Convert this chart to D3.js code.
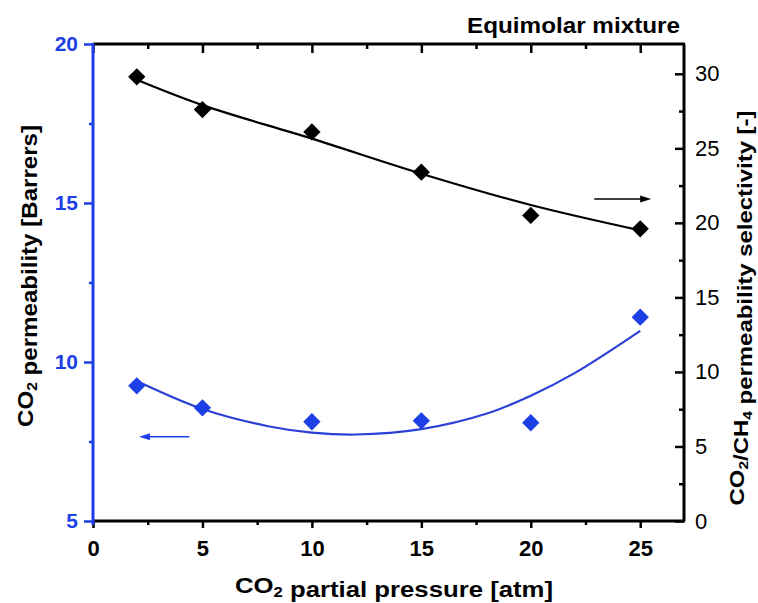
<!DOCTYPE html>
<html>
<head>
<meta charset="utf-8">
<script src="https://cdn.jsdelivr.net/npm/d3@7"></script>
<style>
  body { margin: 0; background: #fff; }
  text { font-family: "Liberation Sans", Arial, sans-serif; }
</style>
</head>
<body>
<svg id="chart"></svg>
<script>
// measured points
const pressure = [2, 5, 10, 15, 20, 25];
const permeability = [9.25, 8.56, 8.12, 8.15, 8.09, 11.41];
const selectivity = [29.8, 27.6, 26.1, 23.4, 20.5, 19.6];

// fitted curves
const permFitX = [2, 5, 8, 10, 12, 15, 18, 20, 22, 25];
const permFitY = [9.4, 8.52, 7.98, 7.78, 7.72, 7.89, 8.38, 8.94, 9.65, 10.98];
const selFitX = [2, 5, 10, 15, 20, 25];
const selFitY = [29.6, 27.9, 25.65, 23.3, 21.2, 19.5];

const xTicks = [0, 5, 10, 15, 20, 25];
const xMinor = [2.5, 7.5, 12.5, 17.5, 22.5];
const leftTicks = [5, 10, 15, 20];
const leftMinor = [7.5, 12.5, 17.5];
const rightTicks = [0, 5, 10, 15, 20, 25, 30];
const rightMinor = [2.5, 7.5, 12.5, 17.5, 22.5, 27.5];

const width = 758, height = 603;
const blue = "#1d3fe6";
const pLeft = 93, pRight = 684, pTop = 44, pBottom = 521;

const svg = d3.select("#chart").attr("width", width).attr("height", height);

const x = d3.scaleLinear().domain([0, 27]).range([pLeft, pRight]);
const yL = d3.scaleLinear().domain([5, 20]).range([pBottom, pTop]);
const yR = d3.scaleLinear().domain([0, 32]).range([pBottom, pTop]);

function tickAxis(axis, tr, color) {
  const g = svg.append("g").attr("transform", tr).call(axis);
  g.select(".domain").remove();
  g.selectAll("line").attr("stroke", color).attr("stroke-width", 2.5);
  g.selectAll("text").attr("fill", color);
  return g;
}

// bottom axis, ticks outward
tickAxis(d3.axisBottom(x).tickValues(xTicks).tickSize(7).tickPadding(12), `translate(0,${pBottom})`, "#000")
  .selectAll("text").attr("font-size", 22).attr("font-weight", "bold");
tickAxis(d3.axisBottom(x).tickValues(xMinor).tickSize(4).tickFormat(""), `translate(0,${pBottom})`, "#000");

// top axis, ticks inward
tickAxis(d3.axisTop(x).tickValues(xTicks).tickSize(-9).tickFormat(""), `translate(0,${pTop})`, "#000");
tickAxis(d3.axisTop(x).tickValues(xMinor).tickSize(-5).tickFormat(""), `translate(0,${pTop})`, "#000");

// left axis (blue), ticks outward
tickAxis(d3.axisLeft(yL).tickValues(leftTicks).tickSize(9).tickPadding(6), `translate(${pLeft},0)`, blue)
  .selectAll("text").attr("font-size", 21).attr("font-weight", "bold");
tickAxis(d3.axisLeft(yL).tickValues(leftMinor).tickSize(4).tickFormat(""), `translate(${pLeft},0)`, blue);

// right axis, ticks inward
tickAxis(d3.axisRight(yR).tickValues(rightTicks).tickSize(-9).tickPadding(11), `translate(${pRight},0)`, "#000")
  .selectAll("text").attr("font-size", 22);
tickAxis(d3.axisRight(yR).tickValues(rightMinor).tickSize(-5).tickFormat(""), `translate(${pRight},0)`, "#000");

// frame
svg.append("line").attr("x1", pLeft).attr("x2", pRight + 1).attr("y1", pTop).attr("y2", pTop)
  .attr("stroke", "#000").attr("stroke-width", 3);
svg.append("line").attr("x1", pLeft).attr("x2", pRight + 1).attr("y1", pBottom).attr("y2", pBottom)
  .attr("stroke", "#000").attr("stroke-width", 3);
svg.append("line").attr("x1", pRight).attr("x2", pRight).attr("y1", pTop).attr("y2", pBottom)
  .attr("stroke", "#000").attr("stroke-width", 3);
svg.append("line").attr("x1", pLeft).attr("x2", pLeft).attr("y1", pTop - 1).attr("y2", pBottom + 4)
  .attr("stroke", blue).attr("stroke-width", 3);

// fit curves
const permLine = d3.line().x(d => x(d[0])).y(d => yL(d[1])).curve(d3.curveCatmullRom);
const selLine = d3.line().x(d => x(d[0])).y(d => yR(d[1])).curve(d3.curveCatmullRom);

svg.append("path").attr("d", permLine(d3.zip(permFitX, permFitY)))
  .attr("fill", "none").attr("stroke", "#2a40d6").attr("stroke-width", 2.2);
svg.append("path").attr("d", selLine(d3.zip(selFitX, selFitY)))
  .attr("fill", "none").attr("stroke", "#000").attr("stroke-width", 2.2);

// markers
const diamond = d3.symbol().type(d3.symbolSquare).size(150)();
svg.append("g").selectAll("path").data(d3.zip(pressure, permeability)).join("path")
  .attr("d", diamond)
  .attr("transform", d => `translate(${x(d[0])},${yL(d[1])}) rotate(45)`)
  .attr("fill", blue);
svg.append("g").selectAll("path").data(d3.zip(pressure, selectivity)).join("path")
  .attr("d", diamond)
  .attr("transform", d => `translate(${x(d[0])},${yR(d[1])}) rotate(45)`)
  .attr("fill", "#000");

// arrows pointing to the axis each series belongs to
function arrow(x1, x2, y, color) {
  const dir = Math.sign(x2 - x1);
  svg.append("line").attr("x1", x1).attr("x2", x2 - dir * 8).attr("y1", y).attr("y2", y)
    .attr("stroke", color).attr("stroke-width", 1.6);
  svg.append("path")
    .attr("d", `M${x2},${y} L${x2 - dir * 11},${y - 3.5} L${x2 - dir * 11},${y + 3.5} Z`)
    .attr("fill", color);
}
arrow(x(22.9), x(25.5), yR(21.6), "#000");
arrow(x(4.4), x(2.1), yL(7.65), blue);

// titles; parts are plain strings or [subscript]
function label(tx, ty, rot, len, parts, opts = {}) {
  const t = svg.append("text")
    .attr("transform", `translate(${tx},${ty})` + (rot ? " rotate(-90)" : ""))
    .attr("text-anchor", opts.anchor || "middle")
    .attr("font-size", opts.size || 23)
    .attr("font-weight", "bold")
    .attr("fill", opts.color || "#000")
    .attr("textLength", len)
    .attr("lengthAdjust", "spacingAndGlyphs");
  parts.forEach(p => {
    if (Array.isArray(p)) {
      t.append("tspan").attr("font-size", "65%").attr("dy", "0.3em").text(p[0]);
      t.append("tspan").attr("dy", "-0.3em").text("");
    } else {
      t.append("tspan").text(p);
    }
  });
}

label(394, 593, false, 318, ["CO", ["2"], " partial pressure [atm]"], {size: 22});
label(33, 276, true, 302, ["CO", ["2"], " permeability [Barrers]"], {size: 22});
label(744, 308, true, 395, ["CO", ["2"], "/CH", ["4"], " permeability selectivity [-]"], {size: 21});
label(680, 33, false, 213, ["Equimolar mixture"], {anchor: "end", size: 22});
</script>
</body>
</html>
